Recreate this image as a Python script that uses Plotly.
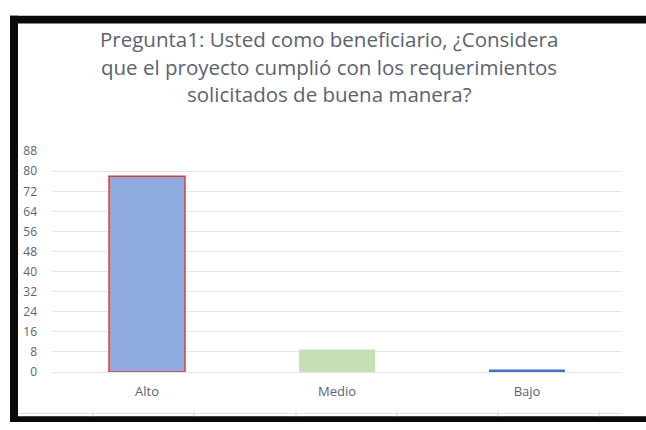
import plotly.graph_objects as go

categories = ["Alto", "Medio", "Bajo"]
values = [78, 9, 1]
bar_colors = ["#8FAADC", "#C5E0B4", "#4472C4"]
bar_line_colors = ["#E03C31", "#C5E0B4", "#4472C4"]
y_ticks = [0, 8, 16, 24, 32, 40, 48, 56, 64, 72, 80, 88]
title_lines = [
    "Pregunta1: Usted como beneficiario, ¿Considera",
    "que el proyecto cumplió con los requerimientos",
    "solicitados de buena manera?",
]

W, H = 646, 430
px_x = lambda p: p / W
px_y = lambda p: 1 - p / H

text_color = "#5B6270"
font_family = "Open Sans"
frame_color = "#0A0A0A"

fig = go.Figure()
fig.add_trace(go.Bar(
    x=categories, y=values,
    marker=dict(color=bar_colors, line=dict(color=bar_line_colors, width=[1.5, 0, 0])),
    width=0.4,
))

fig.update_layout(
    width=W, height=H,
    margin=dict(l=0, r=0, t=0, b=0),
    paper_bgcolor="white", plot_bgcolor="white",
    showlegend=False,
    xaxis=dict(
        domain=[px_x(52), px_x(622)],
        showgrid=False, showline=False, zeroline=False,
        ticks="", tickfont=dict(family=font_family, size=13, color=text_color),
        ticklabelstandoff=10,
    ),
    yaxis=dict(
        domain=[px_y(378), px_y(148)],
        range=[0, 88],
        tickvals=y_ticks,
        showgrid=True, gridcolor="#E2E5EB", gridwidth=1,
        zeroline=True, zerolinecolor="#E2E5EB", zerolinewidth=1,
        showline=False, ticks="",
        tickfont=dict(family=font_family, size=12, color=text_color),
        ticklabelstandoff=14,
    ),
)

for i, (line, yc) in enumerate(zip(title_lines, [31, 60, 89])):
    fig.add_annotation(
        text=line, xref="paper", yref="paper",
        x=px_x(329), y=px_y(yc), xanchor="center", yanchor="middle",
        showarrow=False, font=dict(family=font_family, size=20.5, color=text_color),
    )

# dark frame bands of the original screenshot
shapes = [
    dict(type="rect", xref="paper", yref="paper", x0=px_x(10), x1=1, y0=px_y(15), y1=px_y(7),
         fillcolor=frame_color, line=dict(width=0), layer="above"),
    dict(type="rect", xref="paper", yref="paper", x0=px_x(10), x1=px_x(18), y0=0, y1=px_y(7),
         fillcolor=frame_color, line=dict(width=0), layer="above"),
    dict(type="rect", xref="paper", yref="paper", x0=px_x(10), x1=1, y0=0, y1=px_y(424),
         fillcolor=frame_color, line=dict(width=0), layer="above"),
    dict(type="line", xref="paper", yref="paper", x0=px_x(18), x1=px_x(622), y0=px_y(421), y1=px_y(421),
         line=dict(color="#D9DCE2", width=1)),
]
for xt in [93, 194, 296, 397, 498, 599]:
    shapes.append(dict(type="line", xref="paper", yref="paper", x0=px_x(xt), x1=px_x(xt),
                       y0=px_y(424), y1=px_y(418), line=dict(color="#D9DCE2", width=1)))
fig.update_layout(shapes=shapes)

fig.write_html(
    "out.html",
    config={"displayModeBar": False},
    post_script="document.body.style.margin='0';document.body.style.overflow='hidden';",
)
